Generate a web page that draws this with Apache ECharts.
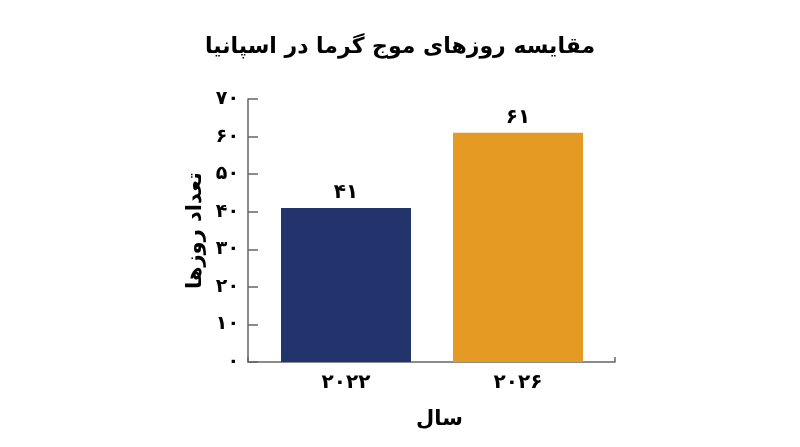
<!DOCTYPE html>
<html>
<head>
<meta charset="utf-8">
<script src="https://cdn.jsdelivr.net/npm/echarts@6/dist/echarts.min.js"></script>
<style>
html,body{margin:0;padding:0;background:#fff;}
#chart{width:800px;height:447px;}
</style>
</head>
<body>
<div id="chart"></div>
<script>
const titleText = 'مقایسه روزهای موج گرما در اسپانیا';
const yAxisName = 'تعداد روزها';
const xAxisName = 'سال';
const categories = ['۲۰۲۲', '۲۰۲۶'];
const values = [41, 61];
const barColors = ['#22346b', '#e49a23'];
const yMin = 0, yMax = 70, yStep = 10;

const faDigits = '۰۱۲۳۴۵۶۷۸۹';
function toFa(n){ return String(n).replace(/[0-9]/g, d => faDigits[+d]); }

const FONT = 'DejaVu Sans';
const chart = echarts.init(document.getElementById('chart'));
chart.setOption({
  backgroundColor: '#ffffff',
  animation: false,
  title: {
    text: titleText, left: 'center', top: 31,
    textStyle: {fontFamily: FONT, fontSize: 22, fontWeight: 'bold', color: '#000'}
  },
  grid: [
    {left: 248, right: 185, top: 99, bottom: 85},
    {left: 260, right: 196, top: 99, bottom: 85}
  ],
  xAxis: [
    {
      gridIndex: 0, type: 'value', min: 0, max: 1, interval: 1,
      axisLine: {show: true, lineStyle: {color: '#666', width: 1.5}},
      axisTick: {show: true, inside: true, length: 5, lineStyle: {color: '#666', width: 1.5}},
      axisLabel: {show: false}, splitLine: {show: false},
      name: xAxisName, nameLocation: 'middle', nameGap: 47,
      nameTextStyle: {fontFamily: FONT, fontSize: 21, fontWeight: 'bold', color: '#000', padding: [0,0,0,16]}
    },
    {
      gridIndex: 1, type: 'category', data: categories,
      axisLine: {show: false}, axisTick: {show: false},
      axisLabel: {margin: 11, fontFamily: FONT, fontSize: 20, fontWeight: 'bold', color: '#000'}
    }
  ],
  yAxis: [
    {
      gridIndex: 0, type: 'value', min: yMin, max: yMax, interval: yStep,
      axisLine: {show: true, lineStyle: {color: '#666', width: 1.5}},
      axisTick: {show: true, inside: true, length: 10, lineStyle: {color: '#666', width: 1.5}},
      splitLine: {show: false},
      axisLabel: {margin: 9, fontFamily: FONT, fontSize: 19, fontWeight: 'bold', color: '#000', formatter: v => toFa(v)},
      name: yAxisName, nameLocation: 'middle', nameGap: 42, nameRotate: 90,
      nameTextStyle: {fontFamily: FONT, fontSize: 21, fontWeight: 'bold', color: '#000'}
    },
    {
      gridIndex: 1, type: 'value', min: yMin, max: yMax, interval: yStep, show: false
    }
  ],
  series: [{
    type: 'bar', xAxisIndex: 1, yAxisIndex: 1, barWidth: 130,
    data: values.map((v, i) => ({value: v, itemStyle: {color: barColors[i]}})),
    label: {show: true, position: 'top', distance: 5, fontFamily: FONT, fontSize: 20, fontWeight: 'bold', color: '#000', formatter: p => toFa(p.value)}
  }]
});
</script>
</body>
</html>
